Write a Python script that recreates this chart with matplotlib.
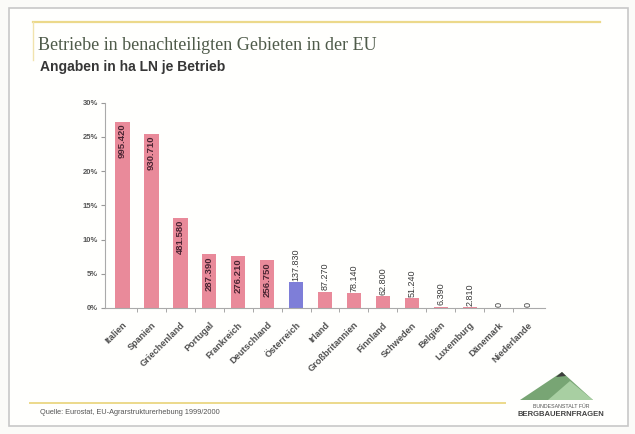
import numpy as np
import matplotlib.pyplot as plt
from matplotlib.patches import Polygon, Rectangle
from matplotlib.lines import Line2D

# Betriebe je Land (Anzahl) - Anteil wird daraus berechnet
laender = ["Italien", "Spanien", "Griechenland", "Portugal", "Frankreich",
           "Deutschland", "Österreich", "Irland", "Großbritannien", "Finnland",
           "Schweden", "Belgien", "Luxemburg", "Dänemark", "Niederlande"]
betriebe = [995420, 930710, 481580, 287390, 276210, 256750, 137830,
            87270, 78140, 62800, 51240, 6390, 2810, 0, 0]
labels = ["995.420", "930.710", "481.580", "287.390", "276.210", "256.750",
          "137.830", "87.270", "78.140", "62.800", "51.240", "6.390",
          "2.810", "0", "0"]
yticks = [0, 5, 10, 15, 20, 25, 30]

anteil = np.array(betriebe) / sum(betriebe) * 100

plt.rcParams['font.family'] = ['Liberation Sans', 'DejaVu Sans']
fig = plt.figure(figsize=(6.35, 4.34), dpi=100)
fig.patch.set_facecolor("#fbfbf8")

# Rahmen und Zierlinien (hinter der Achse)
fig.add_artist(Rectangle((9/635, 1-426/434), 619/635, 418/434, transform=fig.transFigure,
                         facecolor="#fffffd", edgecolor="#c8c8c8", lw=1.2, zorder=-5))
fig.add_artist(Line2D([33/635, 600/635], [1-22/434, 1-22/434], color="#ecd98a", lw=1.6, zorder=-4))
fig.add_artist(Line2D([33/635, 33/635], [1-22/434, 1-60/434], color="#f1e3ad", lw=1.0, zorder=-4))
fig.add_artist(Line2D([30/635, 505/635], [1-403/434, 1-403/434], color="#ecd98a", lw=1.4, zorder=-4))

fig.text(38/635, 1-46/434, "Betriebe in benachteiligten Gebieten in der EU",
         family="Liberation Serif", fontsize=13, color="#4f5b4a", va="center")
fig.text(40/635, 1-67/434, "Angaben in ha LN je Betrieb", fontsize=10,
         fontweight="bold", color="#363636", va="center")
fig.text(40/635, 1-412/434, "Quelle: Eurostat, EU-Agrarstrukturerhebung 1999/2000",
         fontsize=5.3, color="#555555", va="center")

ax = fig.add_axes([105/635, 1-308/434, 440/635, 205.3/434])
ax.set_facecolor("none")
x = np.arange(len(laender))
farben = ["#e98a9a"] * len(laender)
farben[laender.index("Österreich")] = "#7e7ed8"
ax.bar(x, anteil, width=0.5, color=farben)

for i, (v, t) in enumerate(zip(anteil, labels)):
    if v > 6:
        ax.text(i, v - 0.3, t, rotation=90, ha="center", va="top",
                fontsize=6.8, fontweight="bold", color="#4a2432")
    else:
        ax.text(i, v + 0.2, t, rotation=90, ha="center", va="bottom",
                fontsize=6.5, color="#3a3a3a")

ax.set_xlim(-0.6, 14.6)
ax.set_ylim(0, 30)
ax.set_yticks(yticks)
ax.set_yticklabels([f"{t}%" for t in yticks], fontsize=5.5, fontweight="bold", color="#555555")
ax.set_xticks(x)
ax.set_xticklabels(laender, rotation=45, ha="right", rotation_mode="anchor",
                   fontsize=6.6, fontweight="bold", color="#505050")
ax.tick_params(axis="x", length=0, pad=9)
ax.tick_params(axis="y", length=3, color="#999999", pad=2)
ax.set_xticks(x[:-1] + 0.5, minor=True)
ax.tick_params(axis="x", which="minor", length=3, color="#999999")
for s in ["top", "right"]:
    ax.spines[s].set_visible(False)
for s in ["left", "bottom"]:
    ax.spines[s].set_color("#aaaaaa")

# Logo unten rechts
fig.add_artist(Polygon([(520/635, 1-400/434), (562/635, 1-372/434), (593/635, 1-400/434)],
                       closed=True, transform=fig.transFigure, facecolor="#78a574", edgecolor="none"))
fig.add_artist(Polygon([(548/635, 1-400/434), (570/635, 1-381/434), (593/635, 1-400/434)],
                       closed=True, transform=fig.transFigure, facecolor="#a8cfa2", edgecolor="none"))
fig.add_artist(Polygon([(556/635, 1-377/434), (562/635, 1-372/434), (566/635, 1-376/434)],
                       closed=True, transform=fig.transFigure, facecolor="#3d3d3d", edgecolor="none"))
fig.text(561/635, 1-406/434, "BUNDESANSTALT FÜR", fontsize=3.8, color="#555555", ha="center", va="center")
fig.text(561/635, 1-414/434, "BERGBAUERNFRAGEN", fontsize=5.5, fontweight="bold",
         color="#444444", ha="center", va="center")

fig.savefig("out.png", dpi=100, facecolor=fig.get_facecolor())
